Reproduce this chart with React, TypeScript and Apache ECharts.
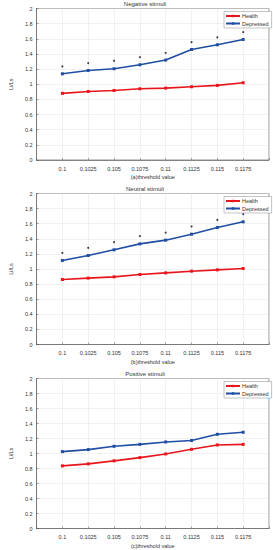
import React, { useEffect, useRef } from "react";
import * as echarts from "echarts";

const thresholds = ["", "0.1", "0.1025", "0.105", "0.1075", "0.11", "0.1125", "0.115", "0.1175", ""];
const titles = ["Negative stimuli", "Neutral stimuli", "Positive stimuli"];
const xNames = ["(a)threshold value", "(b)threshold value", "(c)threshold value"];
const yTicks = { min: 0, max: 2, interval: 0.2 };

const negHealth = [0.88, 0.905, 0.918, 0.94, 0.949, 0.967, 0.985, 1.02];
const negDepressed = [1.138, 1.182, 1.205, 1.257, 1.319, 1.459, 1.521, 1.591];
const negStars = [1.235, 1.279, 1.31, 1.358, 1.415, 1.556, 1.618, 1.688];

const neuHealth = [0.861, 0.879, 0.896, 0.927, 0.949, 0.971, 0.989, 1.007];
const neuDepressed = [1.113, 1.179, 1.254, 1.333, 1.382, 1.461, 1.55, 1.625];
const neuStars = [1.214, 1.28, 1.355, 1.435, 1.483, 1.563, 1.651, 1.726];

const posHealth = [0.835, 0.862, 0.902, 0.945, 0.994, 1.056, 1.114, 1.122];
const posDepressed = [1.025, 1.052, 1.096, 1.122, 1.154, 1.173, 1.256, 1.283];
const posStars: number[] = [];

const panels = [
  { health: negHealth, depressed: negDepressed, stars: negStars },
  { health: neuHealth, depressed: neuDepressed, stars: neuStars },
  { health: posHealth, depressed: posDepressed, stars: posStars },
];

const RED = "#e8161c";
const BLUE = "#1f4ea3";
const AXIS = "#4d4d4d";
const FONT = "Liberation Sans, Arial, sans-serif";

const pad = (arr: number[]) => [null, ...arr, null];

export default function App() {
  const ref = useRef<HTMLDivElement>(null);
  useEffect(() => {
    document.body.style.margin = "0";
    if (!ref.current) return;
    const chart = echarts.init(ref.current, null, { renderer: "svg" });
    const gridTops = [8.5, 193.5, 378.5];
    const gridHeights = [151.5, 151, 150];
    const grids = gridTops.map((t, i) => ({
      left: 20.7,
      right: 4,
      top: t,
      height: gridHeights[i],
      show: true,
      borderColor: AXIS,
      borderWidth: 0.6,
      backgroundColor: "#fff",
    }));
    const xAxes = gridTops.map((_, i) => ({
      type: "category",
      gridIndex: i,
      data: thresholds,
      boundaryGap: false,
      name: xNames[i],
      nameLocation: "middle",
      nameGap: 14,
      nameTextStyle: { fontSize: 5.5, color: "#333", fontFamily: FONT },
      axisLine: { lineStyle: { color: AXIS, width: 0.6 } },
      axisTick: { inside: true, length: 2, lineStyle: { color: AXIS, width: 0.5 }, interval: 0 },
      axisLabel: { fontSize: 5.5, color: "#333", margin: 5.5, interval: 0, fontFamily: FONT },
      splitLine: { show: true, lineStyle: { color: "#e3e3e3", width: 0.5 } },
    }));
    const yAxes = gridTops.map((_, i) => ({
      type: "value",
      gridIndex: i,
      min: yTicks.min,
      max: yTicks.max,
      interval: yTicks.interval,
      name: "Li/Ls",
      nameLocation: "middle",
      nameGap: 13,
      nameTextStyle: { fontSize: 5.5, color: "#333", fontFamily: FONT },
      axisLine: { show: true, lineStyle: { color: AXIS, width: 0.6 } },
      axisTick: { show: true, inside: true, length: 2, lineStyle: { color: AXIS, width: 0.5 } },
      axisLabel: {
        fontSize: 5.5,
        color: "#333",
        margin: 4,
        fontFamily: FONT,
        formatter: (v: number) => String(Number(v.toFixed(1))),
      },
      splitLine: { show: true, lineStyle: { color: "#e3e3e3", width: 0.5 } },
    }));
    const series: any[] = [];
    panels.forEach((p, i) => {
      series.push({
        name: "Health",
        type: "line",
        xAxisIndex: i,
        yAxisIndex: i,
        data: pad(p.health),
        color: RED,
        lineStyle: { width: 1.6, color: RED },
        symbol: "rect",
        symbolSize: 3,
        itemStyle: { color: RED },
      });
      series.push({
        name: "Depressed",
        type: "line",
        xAxisIndex: i,
        yAxisIndex: i,
        data: pad(p.depressed),
        color: BLUE,
        lineStyle: { width: 1.6, color: BLUE },
        symbol: "rect",
        symbolSize: 3,
        itemStyle: { color: BLUE },
      });
      if (p.stars.length) {
        series.push({
          name: "sig",
          type: "scatter",
          xAxisIndex: i,
          yAxisIndex: i,
          data: pad(p.stars),
          symbol: "circle",
          symbolSize: 2,
          itemStyle: { color: "#111" },
        });
      }
    });
    const titleComps = gridTops.map((t, i) => ({
      text: titles[i],
      left: 145,
      textAlign: "center",
      top: t - 8,
      padding: 0,
      textStyle: { fontSize: 6, fontWeight: "normal", color: "#333", fontFamily: FONT },
    }));
    const legends = gridTops.map((t) => ({
      data: ["Health", "Depressed"],
      orient: "vertical",
      left: 224,
      top: t + 3,
      itemWidth: 14,
      itemHeight: 3,
      itemGap: 1.5,
      padding: [1.5, 3, 1.5, 1],
      backgroundColor: "#fff",
      borderColor: "#888",
      borderWidth: 0.5,
      borderRadius: 0,
      selectedMode: false,
      textStyle: { fontSize: 5.5, color: "#333", fontFamily: FONT, padding: [0, 0, 0, -3] },
    }));
    chart.setOption({
      animation: false,
      backgroundColor: "#fff",
      title: titleComps,
      legend: legends,
      grid: grids,
      xAxis: xAxes,
      yAxis: yAxes,
      series,
    });
    return () => chart.dispose();
  }, []);
  return <div ref={ref} style={{ width: 273, height: 550 }} />;
}
